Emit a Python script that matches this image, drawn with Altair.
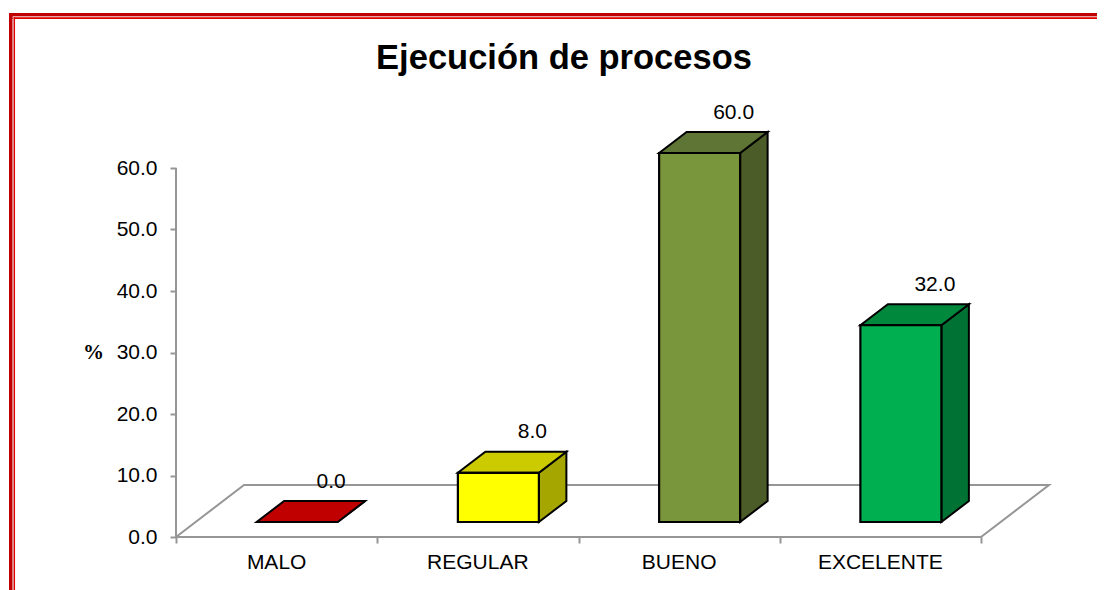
import altair as alt
import pandas as pd

categories = ["MALO", "REGULAR", "BUENO", "EXCELENTE"]
values = [0.0, 8.0, 60.0, 32.0]
y_ticks = [0, 10, 20, 30, 40, 50, 60]
x_ticks = [0, 1, 2, 3, 4]

front_colors = ["#c00000", "#ffff00", "#7a963c", "#00b050"]
top_colors = ["#c00000", "#cbcb00", "#5f7536", "#00883d"]
side_colors = ["#c00000", "#a6a600", "#4c5c28", "#007334"]

# scale: 201.25 px per category, 6.15 px per percent
PX_X = 201.25
PX_Y = 6.15
VIEW_W, VIEW_H = 874, 437
bar_w = 81 / PX_X
bar_shift = 20.5 / PX_X
base = 15 / PX_Y
depth_x = 27.5 / PX_X
depth_y = 21 / PX_Y
floor_x = 68 / PX_X
floor_y = 52 / PX_Y

x_scale = alt.Scale(domain=[0, VIEW_W / PX_X], nice=False, zero=False)
y_scale = alt.Scale(domain=[0, VIEW_H / PX_Y], nice=False, zero=False)
FONT = "Liberation Sans"
GRAY = "#969696"
TEXT_SIZE = 21

x_axis = alt.Axis(values=x_ticks, labels=False, domain=False, grid=False, title=None,
                  tickColor=GRAY, tickWidth=2, tickSize=6)
y_axis = alt.Axis(values=y_ticks, format=".1f", domain=False, grid=False, title="%",
                  tickColor=GRAY, tickWidth=2, tickSize=6, labelPadding=13,
                  labelFont=FONT, labelFontSize=TEXT_SIZE, labelColor="#000000",
                  titleFont="Liberation Serif", titleFontWeight="bold", titleFontSize=21,
                  titleColor="#000000", titleAngle=0, titleX=-83, titleY=262)

front_rows, top_rows, side_rows, label_rows = [], [], [], []
for i, (c, v) in enumerate(zip(categories, values)):
    x0 = i + 0.5 + bar_shift - bar_w / 2
    x1 = x0 + bar_w
    ytop = base + v
    yb = ytop + depth_y
    front_rows.append(dict(cat=c, x=x0, x2=x1, y=base, y2=ytop, color=front_colors[i]))
    for px, lo, hi in [(x0, ytop, ytop), (x0 + depth_x, ytop, yb), (x1, ytop, yb), (x1 + depth_x, yb, yb)]:
        top_rows.append(dict(cat=c, x=px, y=lo, y2=hi, color=top_colors[i]))
    side_rows += [
        dict(cat=c, x=x1, y=base, y2=ytop, color=side_colors[i]),
        dict(cat=c, x=x1 + depth_x, y=base + depth_y, y2=yb, color=side_colors[i]),
    ]
    label_rows.append(dict(cat=c, value=v, x=x0 + bar_w / 2 + depth_x + 6.5 / PX_X, y=yb, xc=i + 0.5, zero=0))

front = pd.DataFrame(front_rows)
top = pd.DataFrame(top_rows)
side = pd.DataFrame(side_rows)
labels = pd.DataFrame(label_rows)
floor = pd.DataFrame({
    "o": [0, 1, 2, 3, 4],
    "x": [0, floor_x, len(categories) + floor_x, len(categories), 0],
    "y": [0, floor_y, floor_y, 0, 0],
})

X = lambda f="x": alt.X(f"{f}:Q", scale=x_scale, axis=x_axis)
Y = lambda f="y": alt.Y(f"{f}:Q", scale=y_scale, axis=y_axis)

floor_layer = alt.Chart(floor).mark_line(color=GRAY, strokeWidth=2, strokeJoin="miter").encode(
    x=X(), y=Y(), order="o:Q"
)
y_axis_line = alt.Chart(pd.DataFrame({"x": [0], "y": [0], "y2": [max(y_ticks)]})).mark_rule(
    color=GRAY, strokeWidth=2
).encode(x=X(), y=Y(), y2="y2:Q")
side_layer = alt.Chart(side).mark_area(orient="vertical", stroke="#000000", strokeWidth=2, strokeJoin="miter").encode(
    x=X(), y=Y(), y2="y2:Q", detail="cat:N", color=alt.Color("color:N", scale=None)
)
top_layer = alt.Chart(top).mark_area(orient="vertical", stroke="#000000", strokeWidth=2, strokeJoin="miter").encode(
    x=X(), y=Y(), y2="y2:Q", detail="cat:N", color=alt.Color("color:N", scale=None)
)
front_layer = alt.Chart(front).mark_rect(stroke="#000000", strokeWidth=2.2).encode(
    x=X(), x2="x2:Q", y=Y(), y2="y2:Q", color=alt.Color("color:N", scale=None)
)
value_layer = alt.Chart(labels).mark_text(font=FONT, fontSize=TEXT_SIZE, color="#000000", dy=-19.5, baseline="middle").encode(
    x=X(), y=Y(), text=alt.Text("value:Q", format=".1f")
)
cat_layer = alt.Chart(labels).mark_text(font=FONT, fontSize=TEXT_SIZE, color="#000000", dy=26, baseline="middle").encode(
    x=X("xc"), y=Y("zero"), text="cat:N"
)

# picture frame, in pixels relative to the plot origin at (176, 100)
def hline(y, w, c):
    return alt.Chart(pd.DataFrame({"a": [0]})).mark_rule(color=c, strokeWidth=w).encode(
        x=alt.value(-167), x2=alt.value(929), y=alt.value(y))
def vline(x, w, c, y0):
    return alt.Chart(pd.DataFrame({"a": [0]})).mark_rule(color=c, strokeWidth=w).encode(
        x=alt.value(x), y=alt.value(y0), y2=alt.value(490))

frame = [
    hline(-85.4, 3.4, "#c00000"), hline(-83.4, 1.3, "#e6a3a3"), hline(-81.9, 1.7, "#dc0000"),
    vline(-165.2, 3.6, "#c00000", -87), vline(-162.8, 1.2, "#e6a3a3", -83), vline(-161.6, 1.3, "#dc0000", -82.7),
]

chart = alt.layer(
    floor_layer, y_axis_line, side_layer, top_layer, front_layer, value_layer, cat_layer, *frame
).properties(
    width=VIEW_W,
    height=VIEW_H,
    padding={"left": 168, "top": 92, "right": 47, "bottom": 53},
    autosize=alt.AutoSizeParams(type="none"),
    background="#ffffff",
    title=alt.TitleParams("Ejecución de procesos", font=FONT, fontSize=34.5, fontWeight="bold",
                          color="#000000", anchor="middle", dx=-49, offset=-65),
).configure_view(stroke=None)

chart.save("out.html", embed_options={"renderer": "svg", "actions": False})
